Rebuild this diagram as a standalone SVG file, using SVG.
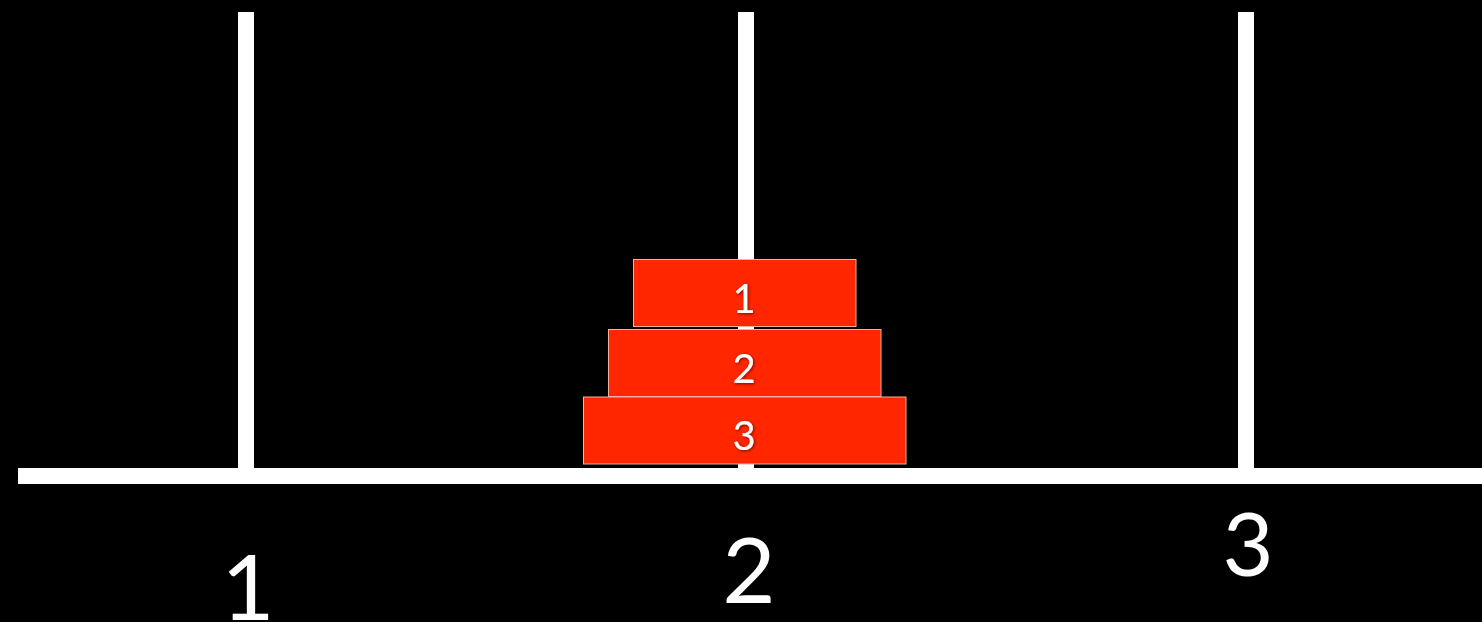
<svg xmlns="http://www.w3.org/2000/svg" width="1482" height="622" viewBox="0 0 1482 622">
<style>
.pole{fill:#ffffff}
.disk{fill:#ff2600;stroke:#f4b0a0;stroke-width:1}
.dlabel{font-family:Lato,"Open Sans",sans-serif;font-size:40px;fill:#ffffff;text-anchor:middle}
.plabel{font-family:Lato,"Open Sans",sans-serif;fill:#ffffff;text-anchor:middle}
</style>
<defs>
<filter id="sh" x="-50%" y="-50%" width="200%" height="200%">
<feDropShadow dx="1" dy="1" stdDeviation="1.5" flood-color="#600000" flood-opacity="0.8"/>
</filter>
</defs>
<rect x="0" y="0" width="1482" height="622" fill="#000000"/>
<g id="base"><rect class="pole" x="18" y="468" width="1464" height="16"/></g>
<g id="peg1"><rect class="pole" x="238" y="12" width="16" height="462"/></g>
<g id="peg2"><rect class="pole" x="738" y="12" width="16" height="462"/></g>
<g id="peg3"><rect class="pole" x="1238" y="12" width="16" height="462"/></g>
<g id="disk3"><rect class="disk" x="583.5" y="397" width="322.5" height="67"/><text class="dlabel" x="744" y="450" filter="url(#sh)">3</text></g>
<g id="disk2"><rect class="disk" x="608.5" y="329.5" width="272.5" height="67"/><text class="dlabel" x="744" y="383" filter="url(#sh)">2</text></g>
<g id="disk1"><rect class="disk" x="633.5" y="259.5" width="222.5" height="67"/><text class="dlabel" x="744" y="313" filter="url(#sh)">1</text></g>
<g id="labels">
<text class="plabel" x="248" y="620" font-size="92">1</text>
<text class="plabel" x="749" y="603" font-size="92">2</text>
<text class="plabel" x="1248" y="576" font-size="88">3</text>
</g>
<g id="connectors"></g>
</svg>
